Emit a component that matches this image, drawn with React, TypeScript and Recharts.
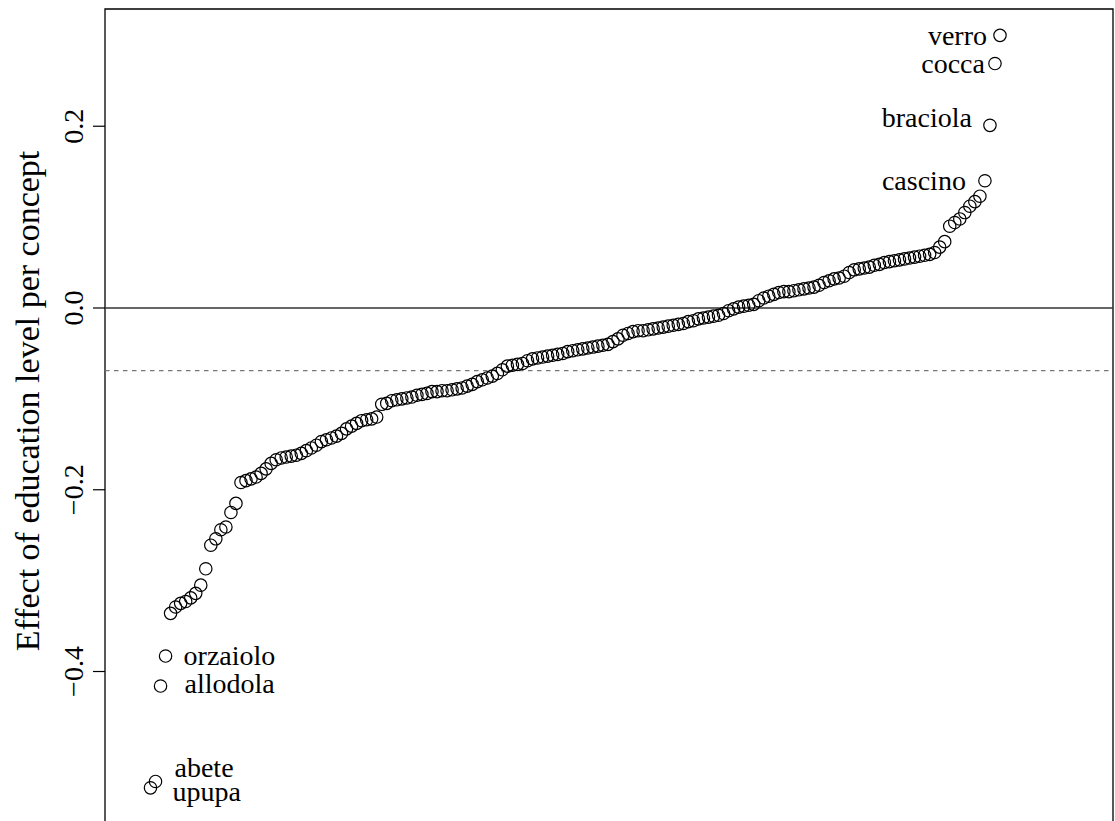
import React from 'react';
import { ScatterChart, Scatter, XAxis, YAxis, ReferenceLine, ReferenceArea } from 'recharts';

// Sorted per-concept effects
const effects: number[] = [
  -0.528, -0.521, -0.416, -0.383, -0.336, -0.329, -0.325, -0.323, -0.319, -0.314,
  -0.305, -0.287, -0.261, -0.254, -0.244, -0.241, -0.225, -0.215, -0.192, -0.190,
  -0.188, -0.186, -0.182, -0.177, -0.171, -0.167, -0.165, -0.164, -0.163, -0.162,
  -0.160, -0.157, -0.154, -0.151, -0.147, -0.145, -0.143, -0.141, -0.138, -0.133,
  -0.130, -0.127, -0.124, -0.123, -0.122, -0.120, -0.106, -0.105, -0.102, -0.101,
  -0.100, -0.099, -0.098, -0.096, -0.095, -0.094, -0.092, -0.092, -0.091, -0.091,
  -0.090, -0.089, -0.088, -0.086, -0.084, -0.081, -0.079, -0.077, -0.075, -0.072,
  -0.068, -0.064, -0.063, -0.062, -0.061, -0.058, -0.056, -0.055, -0.054, -0.053,
  -0.052, -0.051, -0.050, -0.048, -0.047, -0.046, -0.045, -0.044, -0.043, -0.042,
  -0.041, -0.040, -0.037, -0.034, -0.030, -0.028, -0.026, -0.025, -0.025, -0.024,
  -0.023, -0.022, -0.021, -0.020, -0.019, -0.018, -0.017, -0.015, -0.014, -0.012,
  -0.011, -0.010, -0.009, -0.008, -0.006, -0.003, -0.001, 0.001, 0.002, 0.003,
  0.004, 0.008, 0.011, 0.013, 0.015, 0.017, 0.018, 0.018, 0.019, 0.020,
  0.021, 0.022, 0.023, 0.025, 0.028, 0.030, 0.032, 0.033, 0.035, 0.039,
  0.042, 0.043, 0.044, 0.045, 0.047, 0.048, 0.050, 0.051, 0.052, 0.053,
  0.054, 0.055, 0.056, 0.057, 0.058, 0.059, 0.061, 0.067, 0.073, 0.090,
  0.094, 0.098, 0.105, 0.112, 0.117, 0.123, 0.140, 0.201, 0.269, 0.300,
];

const labelNames: string[] = ['upupa', 'abete', 'allodola', 'orzaiolo', 'cascino', 'braciola', 'cocca', 'verro'];
const labelIndices: number[] = [1, 2, 3, 4, 167, 168, 169, 170];
const yTicks: number[] = [-0.4, -0.2, 0, 0.2];
const meanEffect = -0.069;
const yTitle = 'Effect of education level per concept';

const X_DOMAIN: [number, number] = [-8.05, 192.48];
const Y_DOMAIN: [number, number] = [-0.5744, 0.329];

// label placement (styling only)
const labelPlacement: Record<string, { anchor: 'start' | 'end'; dx: number; dy: number }> = {
  upupa: { anchor: 'start', dx: 22, dy: 4 },
  abete: { anchor: 'start', dx: 19, dy: -14 },
  allodola: { anchor: 'start', dx: 24, dy: -2 },
  orzaiolo: { anchor: 'start', dx: 18, dy: 0 },
  cascino: { anchor: 'end', dx: -19, dy: 0 },
  braciola: { anchor: 'end', dx: -18, dy: -8 },
  cocca: { anchor: 'end', dx: -10, dy: 0 },
  verro: { anchor: 'end', dx: -13, dy: 0 },
};

const FONT = '"Liberation Serif", "Times New Roman", Times, serif';

const data = effects.map((v, i) => {
  const idx = i + 1;
  const k = labelIndices.indexOf(idx);
  return { idx, effect: v, label: k >= 0 ? labelNames[k] : null };
});

const fmt = (v: number) => v.toFixed(1).replace('-', '\u2212');

const YTick = (props: any) => {
  const { x, y, payload } = props;
  return (
    <text
      x={x}
      y={y}
      transform={`rotate(-90, ${x}, ${y})`}
      textAnchor="middle"
      fontFamily={FONT}
      fontSize={28}
      fill="#000"
    >
      {fmt(payload.value)}
    </text>
  );
};

const PointShape = (props: any) => {
  const { cx, cy, payload } = props;
  const lab: string | null = payload ? payload.label : null;
  const pl = lab ? labelPlacement[lab] : null;
  return (
    <g>
      <circle cx={cx} cy={cy} r={6.2} fill="none" stroke="#000" strokeWidth={1.2} />
      {lab && pl ? (
        <text
          x={cx + pl.dx}
          y={cy + pl.dy}
          dy="0.33em"
          textAnchor={pl.anchor}
          fontFamily={FONT}
          fontSize={28}
          fill="#000"
        >
          {lab}
        </text>
      ) : null}
    </g>
  );
};

export default function App() {
  return (
    <div
      style={{
        position: 'absolute',
        left: 0,
        top: 0,
        width: 1115,
        height: 821,
        overflow: 'hidden',
        background: '#fff',
      }}
    >
      <ScatterChart width={1115} height={840} margin={{ top: 9, right: 2, bottom: 10, left: 0 }}>
        <XAxis type="number" dataKey="idx" domain={X_DOMAIN} allowDataOverflow hide />
        <YAxis
          type="number"
          dataKey="effect"
          domain={Y_DOMAIN}
          allowDataOverflow
          ticks={yTicks}
          width={105}
          tickSize={12}
          tickMargin={10}
          axisLine={false}
          tickLine={{ stroke: '#000', strokeWidth: 1.2 }}
          tick={<YTick />}
          interval={0}
        />
        <ReferenceArea
          x1={X_DOMAIN[0]}
          x2={X_DOMAIN[1]}
          y1={Y_DOMAIN[0]}
          y2={Y_DOMAIN[1]}
          fill="none"
          fillOpacity={0}
          stroke="#000"
          strokeWidth={1.3}
          ifOverflow="visible"
        />
        <ReferenceLine y={0} stroke="#333" strokeWidth={1.4} />
        <ReferenceLine y={meanEffect} stroke="#777" strokeWidth={1.2} strokeDasharray="4.5 4.5" />
        <Scatter data={data} isAnimationActive={false} shape={<PointShape />} />
      </ScatterChart>
      <svg
        width={1115}
        height={821}
        style={{ position: 'absolute', left: 0, top: 0, pointerEvents: 'none' }}
      >
        <text
          x={39}
          y={401}
          transform="rotate(-90, 39, 401)"
          textAnchor="middle"
          fontFamily={FONT}
          fontSize={34}
          fill="#000"
        >
          {yTitle}
        </text>
      </svg>
    </div>
  );
}
